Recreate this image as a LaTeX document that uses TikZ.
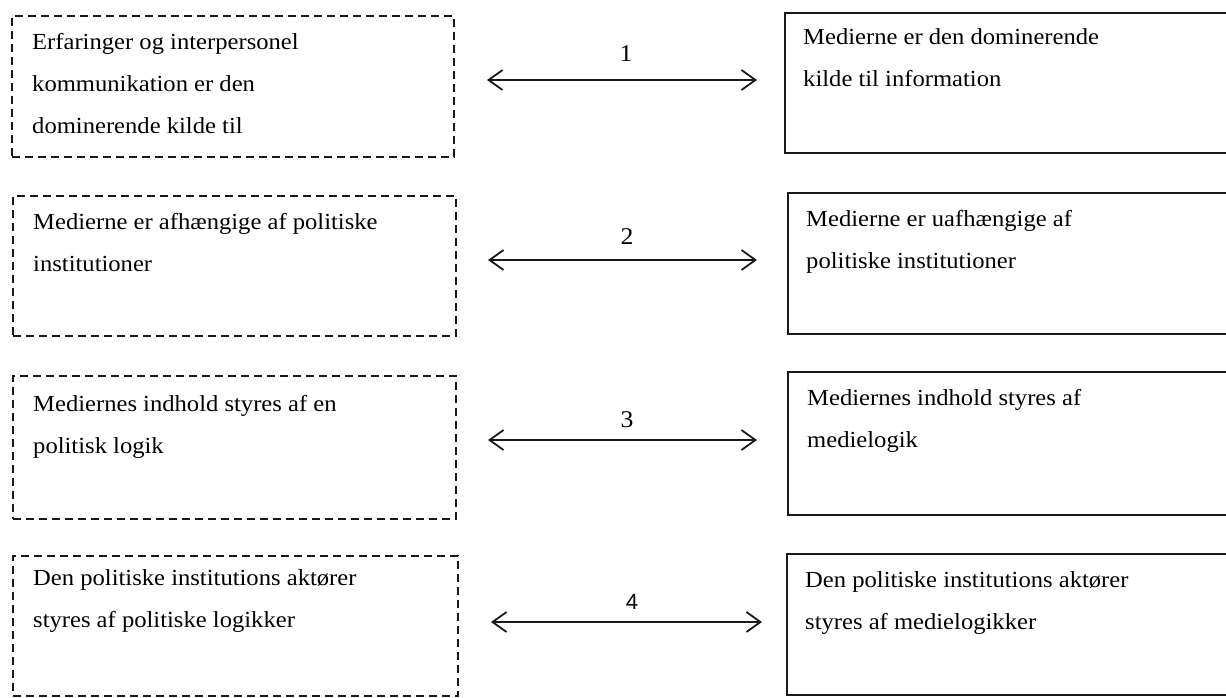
\documentclass[tikz,border=0pt]{standalone}
\usepackage{fontspec}
\setmainfont{Liberation Serif}[FakeStretch=1.07]
\newfontfamily\digitsans{Liberation Sans}
\usetikzlibrary{arrows.meta}
\begin{document}
\begin{tikzpicture}[x=1pt,y=-1pt,
  dbox/.style={draw=black!90, dash pattern=on 8pt off 5pt, line width=1.8pt, inner sep=0pt, anchor=north west},
  sbox/.style={draw=black!90, line width=1.8pt, inner sep=0pt, anchor=north west, minimum width=470pt},
  txt/.style={anchor=base west, align=left, inner sep=0pt, text=black, font=\fontsize{23}{42}\selectfont},
  arr/.style={{Straight Barb[length=14pt,width=20pt]}-{Straight Barb[length=14pt,width=20pt]}, line width=1.8pt, draw=black!90},
  num/.style={inner sep=0pt, text=black, font=\fontsize{24}{28}\selectfont}]
\useasboundingbox (0,0) rectangle (1226,697);
\clip (0,0) rectangle (1226,697);
% left dashed boxes
\node[dbox, minimum width=442pt, minimum height=141pt] (L1) at (11,15) {};
\node[dbox, minimum width=443pt, minimum height=140pt] (L2) at (12,195) {};
\node[dbox, minimum width=443pt, minimum height=143pt] (L3) at (12,375) {};
\node[dbox, minimum width=445pt, minimum height=140pt] (L4) at (12,555) {};
% right solid boxes (open at the right edge)
\node[sbox, minimum height=140pt] (R1) at (784,12) {};
\node[sbox, minimum height=141pt] (R2) at (787,192) {};
\node[sbox, minimum height=143pt] (R3) at (787,371) {};
\node[sbox, minimum height=141pt] (R4) at (786,553) {};
% texts (anchored at the baseline of the last line)
\node[txt] (tL1) at (32,133) {Erfaringer og interpersonel\\kommunikation er den\\dominerende kilde til};
\node[txt] (tL2) at (33,271) {Medierne er afhængige af politiske\\institutioner};
\node[txt] (tL3) at (33,453) {Mediernes indhold styres af en\\politisk logik};
\node[txt] (tL4) at (33,627) {Den politiske institutions aktører\\styres af politiske logikker};
\node[txt] (tR1) at (803,86) {Medierne er den dominerende\\kilde til information};
\node[txt] (tR2) at (806,268) {Medierne er uafhængige af\\politiske institutioner};
\node[txt] (tR3) at (807,447) {Mediernes indhold styres af\\medielogik};
\node[txt] (tR4) at (805,629) {Den politiske institutions aktører\\styres af medielogikker};
% arrows
\coordinate (a1) at (487,80);  \coordinate (b1) at (757,80);
\coordinate (a2) at (488,260); \coordinate (b2) at (757,260);
\coordinate (a3) at (488,440); \coordinate (b3) at (757,440);
\coordinate (a4) at (491,622); \coordinate (b4) at (762,622);
\draw[arr] (a1) -- (b1);
\draw[arr] (a2) -- (b2);
\draw[arr] (a3) -- (b3);
\draw[arr] (a4) -- (b4);
\node[num] (n1) at (626,54) {1};
\node[num] (n2) at (627,237) {2};
\node[num] (n3) at (627,420) {3};
\node[num, font=\digitsans\fontsize{22}{26}\selectfont] (n4) at (632,602) {4};
\end{tikzpicture}
\end{document}
